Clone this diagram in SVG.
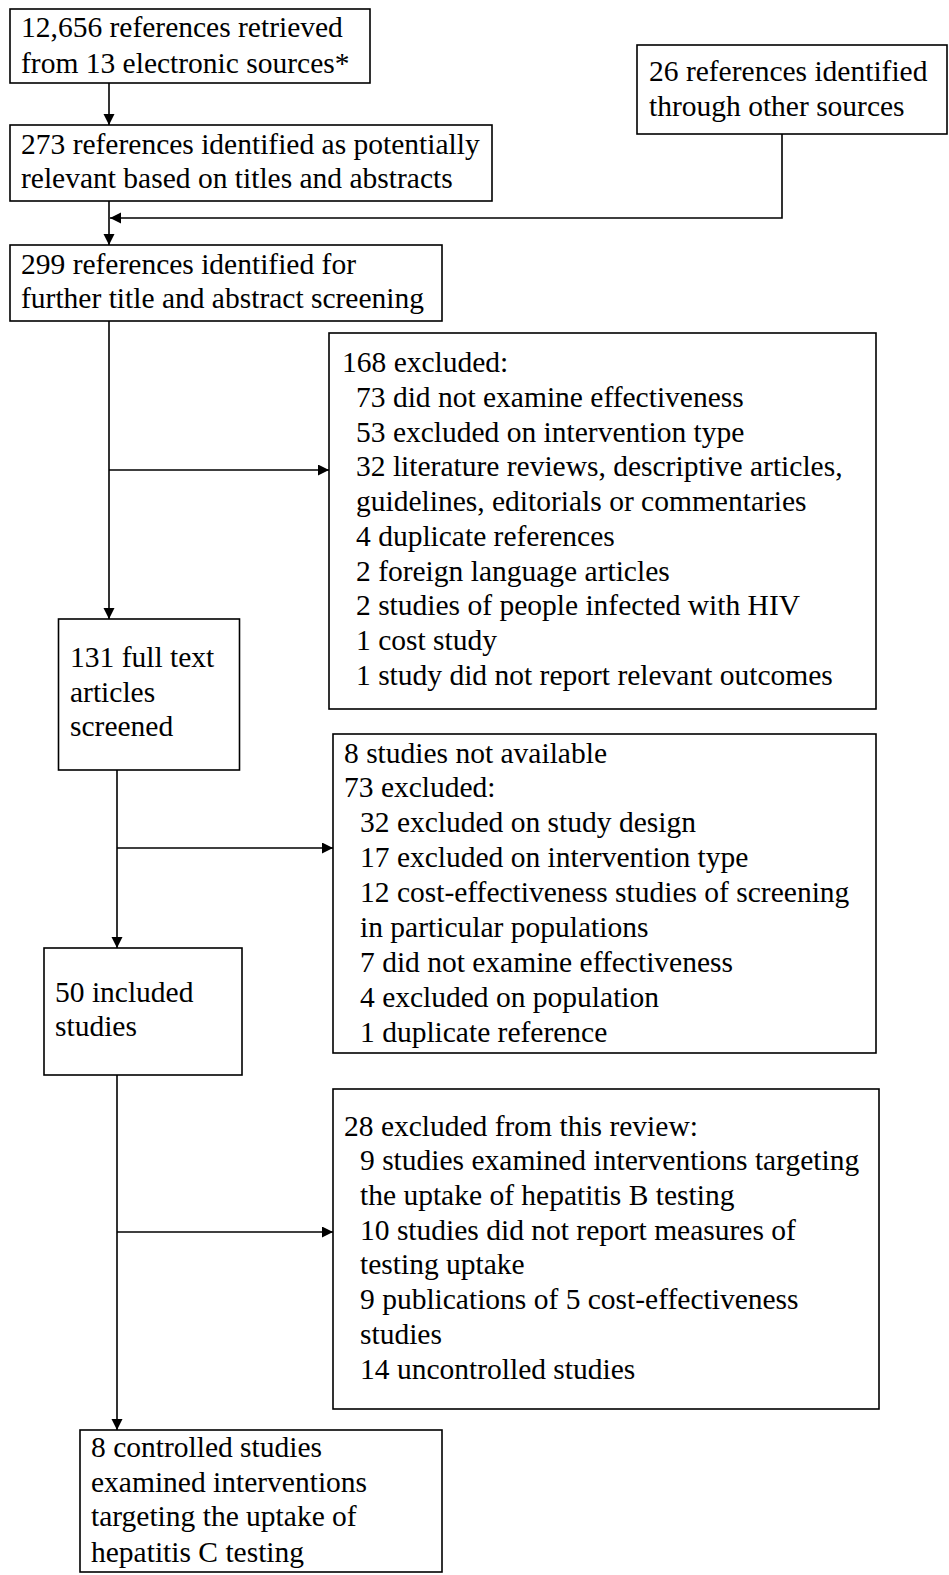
<svg xmlns="http://www.w3.org/2000/svg" width="949" height="1575" viewBox="0 0 949 1575">
<style>
.box{fill:#fff;stroke:#000;stroke-width:1.6}
.t{font-family:"Liberation Serif","Times New Roman",serif;font-size:29.5px;fill:#000}
.c{fill:none;stroke:#000;stroke-width:1.6}
</style>
<defs>
<marker id="ah" markerUnits="userSpaceOnUse" markerWidth="12" markerHeight="12" refX="11" refY="5.5" orient="auto">
<path d="M0,0 L11,5.5 L0,11 z" fill="#000"/>
</marker>
</defs>
<rect width="949" height="1575" fill="#fff"/>
<g id="connectors">
<path class="c" d="M109,83 V125" marker-end="url(#ah)"/>
<path class="c" d="M782,134 V218 H110" marker-end="url(#ah)"/>
<path class="c" d="M109,201 V245" marker-end="url(#ah)"/>
<path class="c" d="M109,321 V619" marker-end="url(#ah)"/>
<path class="c" d="M109,470 H329" marker-end="url(#ah)"/>
<path class="c" d="M117,770 V948" marker-end="url(#ah)"/>
<path class="c" d="M117,848 H333" marker-end="url(#ah)"/>
<path class="c" d="M117,1075 V1430" marker-end="url(#ah)"/>
<path class="c" d="M117,1232 H333" marker-end="url(#ah)"/>
</g>
<g id="n1">
<rect class="box" x="10" y="9" width="360" height="74"/>
<text class="t" x="21" y="37">12,656 references retrieved</text>
<text class="t" x="21" y="73">from 13 electronic sources*</text>
</g>
<g id="n26">
<rect class="box" x="637" y="45" width="310" height="89"/>
<text class="t" x="649" y="81">26 references identified</text>
<text class="t" x="649" y="116">through other sources</text>
</g>
<g id="n273">
<rect class="box" x="10" y="125" width="482" height="76"/>
<text class="t" x="21" y="154">273 references identified as potentially</text>
<text class="t" x="21" y="188">relevant based on titles and abstracts</text>
</g>
<g id="n299">
<rect class="box" x="10" y="245" width="432" height="76"/>
<text class="t" x="21" y="274">299 references identified for</text>
<text class="t" x="21" y="308">further title and abstract screening</text>
</g>
<g id="n168">
<rect class="box" x="329" y="333" width="547" height="376"/>
<text class="t" x="342" y="372">168 excluded:</text>
<text class="t" x="356" y="407">73 did not examine effectiveness</text>
<text class="t" x="356" y="442">53 excluded on intervention type</text>
<text class="t" x="356" y="476">32 literature reviews, descriptive articles,</text>
<text class="t" x="356" y="511">guidelines, editorials or commentaries</text>
<text class="t" x="356" y="546">4 duplicate references</text>
<text class="t" x="356" y="581">2 foreign language articles</text>
<text class="t" x="356" y="615">2 studies of people infected with HIV</text>
<text class="t" x="356" y="650">1 cost study</text>
<text class="t" x="356" y="685">1 study did not report relevant outcomes</text>
</g>
<g id="n131">
<rect class="box" x="58.5" y="619" width="181" height="151"/>
<text class="t" x="70" y="667">131 full text</text>
<text class="t" x="70" y="702">articles</text>
<text class="t" x="70" y="736">screened</text>
</g>
<g id="n8na">
<rect class="box" x="333" y="734" width="543" height="319"/>
<text class="t" x="344" y="763">8 studies not available</text>
<text class="t" x="344" y="797">73 excluded:</text>
<text class="t" x="360" y="832">32 excluded on study design</text>
<text class="t" x="360" y="867">17 excluded on intervention type</text>
<text class="t" x="360" y="902">12 cost-effectiveness studies of screening</text>
<text class="t" x="360" y="937">in particular populations</text>
<text class="t" x="360" y="972">7 did not examine effectiveness</text>
<text class="t" x="360" y="1007">4 excluded on population</text>
<text class="t" x="360" y="1042">1 duplicate reference</text>
</g>
<g id="n50">
<rect class="box" x="44" y="948" width="198" height="127"/>
<text class="t" x="55" y="1002">50 included</text>
<text class="t" x="55" y="1036">studies</text>
</g>
<g id="n28">
<rect class="box" x="333" y="1089" width="546" height="320"/>
<text class="t" x="344" y="1136">28 excluded from this review:</text>
<text class="t" x="360" y="1170">9 studies examined interventions targeting</text>
<text class="t" x="360" y="1205">the uptake of hepatitis B testing</text>
<text class="t" x="360" y="1240">10 studies did not report measures of</text>
<text class="t" x="360" y="1274">testing uptake</text>
<text class="t" x="360" y="1309">9 publications of 5 cost-effectiveness</text>
<text class="t" x="360" y="1344">studies</text>
<text class="t" x="360" y="1379">14 uncontrolled studies</text>
</g>
<g id="n8c">
<rect class="box" x="80" y="1430" width="362" height="142"/>
<text class="t" x="91" y="1457">8 controlled studies</text>
<text class="t" x="91" y="1492">examined interventions</text>
<text class="t" x="91" y="1526">targeting the uptake of</text>
<text class="t" x="91" y="1562">hepatitis C testing</text>
</g>
</svg>
